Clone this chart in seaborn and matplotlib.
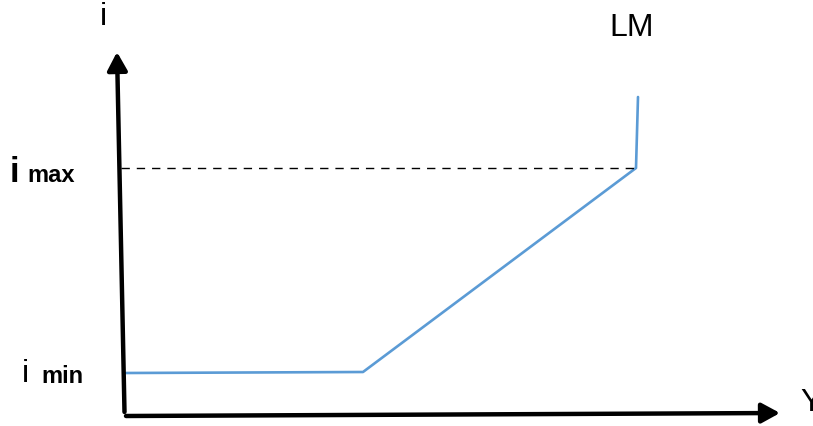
import matplotlib
matplotlib.use("Agg")
import matplotlib.pyplot as plt
import seaborn as sns
import pandas as pd

# LM curve: output Y against interest rate i
lm_Y = [1, 238, 511, 513]
lm_i = [41, 42, 246, 317]
i_min = 41
i_max = 246

sns.set_theme(style="white")
plt.rcParams["font.family"] = ["Liberation Sans", "DejaVu Sans"]
plt.rcParams["text.color"] = "black"

fig = plt.figure(figsize=(8.13, 4.26), dpi=100)
ax = fig.add_axes([0, 0, 1, 1])
ax.set_xlim(-125, 688)
ax.set_ylim(-12, 414)
ax.axis("off")

df = pd.DataFrame({"Y": lm_Y, "i": lm_i})
sns.lineplot(data=df, x="Y", y="i", sort=False, estimator=None,
             color="#5B9BD5", linewidth=1.9, ax=ax)

# dashed guide at the upper rate bound
ax.plot([-4, lm_Y[2]], [i_max, i_max], color="black", linewidth=1.0,
        dashes=(6, 5))

# hand-drawn style axes with arrow heads
arrow = dict(arrowstyle="-|>,head_length=0.55,head_width=0.3",
             color="black", lw=3.2, shrinkA=0, shrinkB=0,
             mutation_scale=20)
ax.annotate("", xy=(-8, 362), xytext=(-0.5, 2), arrowprops=arrow)
ax.annotate("", xy=(655, 1), xytext=(1, -2), arrowprops=arrow)

# axis and curve labels
ax.text(-22, 397, "i", fontsize=23, ha="center", va="center", color="black")
ax.text(507, 386, "LM", fontsize=23, ha="center", va="center", color="black")
ax.text(675, 11, "Y", fontsize=23, ha="left", va="center", color="black")

ax.text(-110.5, 232, "i", fontsize=25, fontweight="bold",
        ha="center", va="baseline", color="black")
ax.text(-98, 232, "max", fontsize=17, fontweight="bold",
        ha="left", va="baseline", color="black")
ax.text(-100, 32, "i", fontsize=23, ha="center", va="baseline", color="black")
ax.text(-84, 31, "min", fontsize=17, fontweight="bold",
        ha="left", va="baseline", color="black")

fig.savefig("out.png", dpi=100, facecolor="white")
